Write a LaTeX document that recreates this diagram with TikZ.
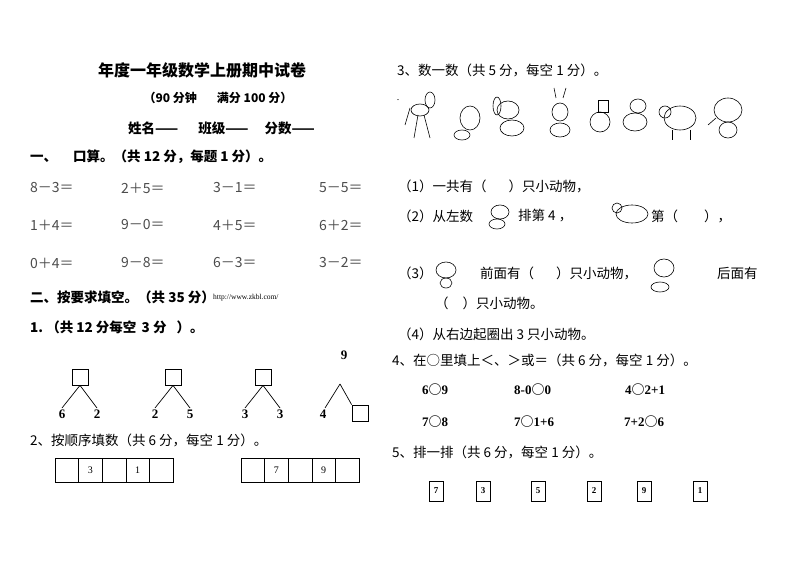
\documentclass[tikz,border=0pt]{standalone}
\usepackage{fontspec}
\setmainfont{Liberation Serif}
\newfontfamily\cjk{Noto Sans CJK SC}
\begin{document}
\begin{tikzpicture}[x=1pt,y=-1pt,
  txt/.style={anchor=west,inner sep=0pt,font=\cjk\fontsize{13.5}{13.5}\selectfont},
  btxt/.style={anchor=west,inner sep=0pt,font=\cjk\bfseries\fontsize{13.5}{13.5}\selectfont},
  calc/.style={anchor=west,inner sep=0pt,font=\cjk\fontsize{14}{14}\selectfont\color{black!70}},
  num/.style={inner sep=0pt,font=\bfseries\fontsize{13}{13}\selectfont},
  sq/.style={draw,line width=0.8pt,minimum width=16pt,minimum height=16pt,inner sep=0pt},
  cell/.style={draw,line width=0.6pt,minimum width=23.6pt,minimum height=24pt,inner sep=0pt,font=\fontsize{10}{10}\selectfont},
  sbox/.style={draw,line width=0.7pt,minimum width=14pt,minimum height=20pt,inner sep=0pt,font=\bfseries\fontsize{9}{9}\selectfont},
  ani/.style={draw,line width=0.6pt}]
\useasboundingbox (0,0) rectangle (794,561);
% left column
\node[anchor=center,inner sep=0pt,font=\cjk\bfseries\fontsize{16}{16}\selectfont] (title) at (202,70) {年度一年级数学上册期中试卷};
\node[anchor=center,inner sep=0pt,font=\cjk\bfseries\fontsize{12}{12}\selectfont] (sub) at (218,98) {（90 分钟\hspace{20pt}满分 100 分）};
\node[btxt] (names) at (128,128) {姓名——\hspace{20pt}班级——\hspace{16pt}分数——};
\node[btxt] (s1) at (30,157) {一、\hspace{16pt}口算。（共 12 分，每题 1 分）。};
\node[calc] (c11) at (30,188) {8－3＝}; \node[calc] (c12) at (121,188) {2＋5＝}; \node[calc] (c13) at (213,188) {3－1＝}; \node[calc] (c14) at (319,188) {5－5＝};
\node[calc] (c21) at (30,225) {1＋4＝}; \node[calc] (c22) at (121,225) {9－0＝}; \node[calc] (c23) at (213,225) {4＋5＝}; \node[calc] (c24) at (319,225) {6＋2＝};
\node[calc] (c31) at (30,263) {0＋4＝}; \node[calc] (c32) at (121,263) {9－8＝}; \node[calc] (c33) at (213,263) {6－3＝}; \node[calc] (c34) at (319,263) {3－2＝};
\node[btxt] (s2) at (30,297) {二、按要求填空。（共 35 分）};
\node[anchor=west,inner sep=0pt,font=\fontsize{7.5}{7.5}\selectfont] (url) at (213,298) {http://www.zkbl.com/};
\node[btxt] (q1) at (30,327) {1.\ （共 12 分每空 \,3 分\hspace{10pt}）。};
% trees
\foreach \i/\cx/\a/\b in {1/80/6/2,2/173/2/5,3/263/3/3}{
  \node[sq] (t\i) at (\cx,377) {};
  \coordinate (l\i) at (\cx-18,408);
  \coordinate (r\i) at (\cx+17,408);
  \draw[line width=0.7pt] (t\i.south) -- (l\i);
  \draw[line width=0.7pt] (t\i.south) -- (r\i);
  \node[num] (la\i) at (\cx-18,414) {\a};
  \node[num] (lb\i) at (\cx+17,414) {\b};
}
\node[num] (n9) at (344,355) {9};
\coordinate (ap) at (340,384);
\coordinate (lf) at (325,408);
\node[sq] (t4) at (360,413) {};
\draw[line width=0.7pt] (ap) -- (lf);
\draw[line width=0.7pt] (ap) -- (t4.north west);
\node[num] (n4) at (323,414) {4};
\node[txt] (q2) at (30,440) {2、按顺序填数（共 6 分，每空 1 分）。};
\foreach \i/\v in {1/,2/3,3/,4/1,5/}{\node[cell] (a\i) at (55+23.6*\i-11.8,470) {\v};}
\foreach \i/\v in {1/,2/7,3/,4/9,5/}{\node[cell] (b\i) at (241+23.6*\i-11.8,470) {\v};}
% right column
\node[txt] (s3) at (397,70) {3、数一数（共 5 分，每空 1 分）。};
\node[inner sep=0pt] (dot) at (398,100) {.};
\begin{scope}[ani]
 \draw (420,110) ellipse (9 and 6); \draw (418,115) -- (414,138) (424,115)--(430,138) (410,108)--(405,125); \draw (430,100) ellipse (5 and 8);
 \draw (470,118) ellipse (10 and 12); \draw (462,135) ellipse (8 and 5);
 \draw (508,110) ellipse (11 and 9); \draw (512,128) ellipse (12 and 8); \draw (497,106) ellipse (4 and 9);
 \draw (560,112) ellipse (8 and 9); \draw (556,98)--(554,88) (563,98)--(566,88); \draw (560,130) ellipse (10 and 7);
 \draw (598,100) rectangle (608,112); \draw (600,122) ellipse (10 and 10);
 \draw (635,122) ellipse (12 and 9); \draw (638,106) ellipse (8 and 7);
 \draw (680,118) ellipse (16 and 12); \draw (665,112) ellipse (6 and 6); \draw (672,130)--(672,140) (690,130)--(690,140);
 \draw (728,110) ellipse (14 and 12); \draw (728,130) ellipse (9 and 8); \draw (716,118)--(708,125);
\end{scope}
\node[txt] (p1) at (398,186) {（1）一共有（\hspace{22pt}）只小动物，};
\node[txt] (p2) at (398,216) {（2）从左数};
\draw[ani] (500,212) ellipse (9 and 7); \draw[ani] (497,224) ellipse (8 and 5);
\node[txt] (p2b) at (518,216) {排第 4 ，};
\draw[ani] (632,214) ellipse (16 and 9); \draw[ani] (617,208) ellipse (5 and 5);
\node[txt] (p2c) at (651,216) {第（\hspace{26pt}），};
\node[txt] (p3) at (398,273) {（3）};
\draw[ani] (446,270) ellipse (10 and 8); \draw[ani] (446,283) ellipse (6 and 5);
\node[txt] (p3b) at (480,273) {前面有（\hspace{22pt}）只小动物，};
\draw[ani] (664,268) ellipse (10 and 9); \draw[ani] (660,287) ellipse (9 and 5);
\node[txt] (p3c) at (717,273) {后面有};
\node[txt] (p3d) at (435,303) {（\hspace{14pt}）只小动物。};
\node[txt] (p4) at (398,334) {（4）从右边起圈出 3 只小动物。};
\node[txt] (s4) at (392,360) {4、在○里填上＜、＞或＝（共 6 分，每空 1 分）。};
\node[num,anchor=west] (e1) at (422,390) {6{\cjk○}9};
\node[num,anchor=west] (e2) at (514,390) {8-0{\cjk○}0};
\node[num,anchor=west] (e3) at (625,390) {4{\cjk○}2+1};
\node[num,anchor=west] (e4) at (422,422) {7{\cjk○}8};
\node[num,anchor=west] (e5) at (514,422) {7{\cjk○}1+6};
\node[num,anchor=west] (e6) at (624,422) {7+2{\cjk○}6};
\node[txt] (s5) at (392,452) {5、排一排（共 6 分，每空 1 分）。};
\foreach \i/\cx/\v in {1/436/7,2/483/3,3/538/5,4/594/2,5/644/9,6/700/1}{\node[sbox] (k\i) at (\cx,491) {\v};}
\end{tikzpicture}
\end{document}
